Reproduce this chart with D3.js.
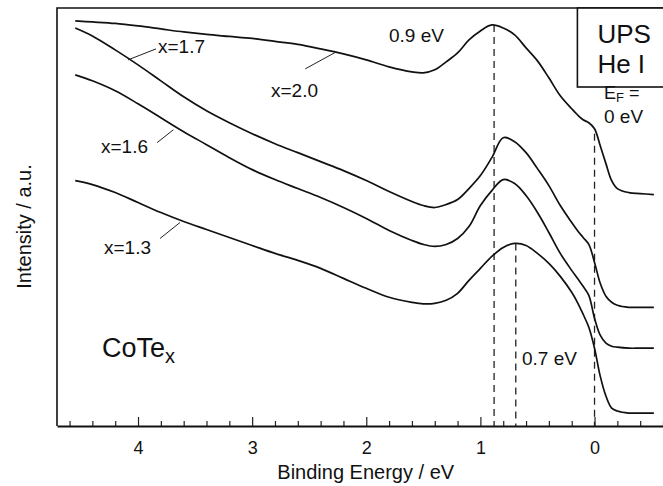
<!DOCTYPE html>
<html>
<head>
<meta charset="utf-8">
<script src="https://cdn.jsdelivr.net/npm/d3@7"></script>
<style>
    body { margin: 0; background: #fff; }
    #upsChart { width: 663px; height: 486px; }
    text { font-family: "Liberation Sans", Arial, Helvetica, sans-serif; fill: #111; }
</style>
</head>
<body>
<div id="upsChart"></div>
<script>
// binding energy grid (eV), shared by all spectra
const energies = [4.55, 4.4, 4.2, 4.0, 3.8, 3.6, 3.4, 3.2, 3.0, 2.8, 2.6, 2.4, 2.2, 2.0, 1.8, 1.6, 1.5, 1.4, 1.3, 1.2,
    1.1, 1.0, 0.9, 0.8, 0.7, 0.6, 0.5, 0.4, 0.3, 0.2, 0.15, 0.1, 0.05, 0.0, -0.05, -0.1, -0.15, -0.2, -0.3, -0.4, -0.52];

// intensities (a.u., curves offset vertically)
const intensityX20 = [406, 405, 403.5, 401, 398, 395, 392.5, 390.5, 388.5, 385.5, 382.5, 378, 373, 367, 360, 355, 354, 357, 365, 374,
    387, 396, 402, 399, 392, 379, 366, 349, 331, 318, 312, 307, 304, 298, 281, 263, 246, 238, 234, 233, 232];
const intensityX17 = [399, 391, 377, 362, 346, 330, 316, 304, 293, 283, 274, 265, 256, 246, 235, 225, 221, 219, 222, 227,
    238, 251, 269, 289, 285, 274, 258, 241, 221, 204, 196, 189, 182, 164, 143, 130, 124, 121, 119, 119, 119];
const intensityX16 = [352, 346, 336, 323, 309, 295, 282, 269, 257, 247, 238, 229, 219, 208, 196, 186, 182, 180, 182, 188,
    200, 221, 236, 247, 243, 231, 214, 194, 173, 156, 148, 140, 131, 108, 91, 83, 80, 79, 78, 78, 78];
const intensityX13 = [246, 242, 234, 224, 214, 205, 197, 189, 181, 173, 166, 158, 148, 138, 129, 124, 122.5, 123, 126, 133,
    146, 158, 170, 179, 183, 181, 173, 163, 150, 134, 124, 112, 99, 78, 50, 30, 18, 15, 13, 13, 13];

const seriesNames = ["x=2.0", "x=1.7", "x=1.6", "x=1.3"];

// tick labels on the energy axis
const majorTicks = [4, 3, 2, 1, 0];

// dashed markers: energy (eV) and intensity where the dash starts
const markerEnergies = [0.88, 0.69, 0.0];
const markerTops = [402, 183, 293];

function drawUpsChart() {
    const W = 663, H = 486;
    const margin = { top: 8, right: 0, bottom: 60, left: 57 };

    const svg = d3.select("#upsChart")
        .append("svg")
        .attr("width", W)
        .attr("height", H);

    // scales (energy axis runs high -> low)
    const x = d3.scaleLinear()
        .domain([4.71, -0.6])
        .range([margin.left, W]);
    const y = d3.scaleLinear()
        .domain([0, 419])
        .range([H - margin.bottom, margin.top]);

    const spectra = [intensityX20, intensityX17, intensityX16, intensityX13].map((vals, i) => ({
        name: seriesNames[i],
        points: energies.map((e, j) => ({ e: e, v: vals[j] }))
    }));

    // dashed lines
    markerEnergies.forEach((e, i) => {
        svg.append("line")
            .attr("x1", x(e))
            .attr("x2", x(e))
            .attr("y1", y(markerTops[i]))
            .attr("y2", y(0))
            .attr("stroke", "#222")
            .attr("stroke-width", 1.3)
            .attr("stroke-dasharray", "7,5");
    });

    const line = d3.line()
        .x(d => x(d.e))
        .y(d => y(d.v))
        .curve(d3.curveCatmullRom.alpha(0.5));

    svg.selectAll(".spectrum")
        .data(spectra)
        .enter().append("path")
        .attr("class", "spectrum")
        .attr("fill", "none")
        .attr("stroke", "#111")
        .attr("stroke-width", 1.7)
        .attr("d", d => line(d.points));

    // minor ticks every 0.2 eV
    const minorTicks = d3.range(4.6, -0.61, -0.2).map(v => +v.toFixed(1)).filter(v => !majorTicks.includes(v));
    svg.append("g")
        .attr("transform", `translate(0,${y(0)})`)
        .call(d3.axisBottom(x).tickValues(minorTicks).tickSizeInner(-5).tickSizeOuter(0).tickFormat(""))
        .call(g => g.select(".domain").remove())
        .call(g => g.selectAll("line").attr("stroke", "#222").attr("stroke-width", 1.2));

    // major ticks and labels
    const xAxis = svg.append("g")
        .attr("transform", `translate(0,${y(0)})`)
        .call(d3.axisBottom(x).tickValues(majorTicks).tickSizeInner(-9).tickSizeOuter(0).tickPadding(15).tickFormat(d3.format("d")));
    xAxis.select(".domain").attr("stroke", "#111").attr("stroke-width", 2);
    xAxis.selectAll("line").attr("stroke", "#222").attr("stroke-width", 1.2);
    xAxis.selectAll("text")
        .style("font-size", "18px")
        .style("font-family", "'Liberation Sans', Arial, sans-serif")
        .attr("fill", "#111");

    // frame: left + top
    svg.append("path")
        .attr("d", `M${x.range()[0]},${y(0)}V${y(419)}H${W}`)
        .attr("fill", "none")
        .attr("stroke", "#111")
        .attr("stroke-width", 1.6);

    // UPS He I box
    const boxX = x(0.15);
    svg.append("rect")
        .attr("x", boxX)
        .attr("y", y(419))
        .attr("width", W - boxX + 5)
        .attr("height", 79)
        .attr("fill", "#fff")
        .attr("stroke", "#111")
        .attr("stroke-width", 1.6);
    svg.append("text").attr("x", boxX + 20).attr("y", 43).style("font-size", "26px").text("UPS");
    svg.append("text").attr("x", boxX + 20).attr("y", 73).style("font-size", "26px").text("He I");

    // axis titles
    svg.append("text")
        .attr("x", x(2.005))
        .attr("y", 479)
        .style("text-anchor", "middle")
        .style("font-size", "20px")
        .text("Binding Energy / eV");

    svg.append("text")
        .attr("transform", `translate(31,${y(200)}) rotate(-90)`)
        .style("text-anchor", "middle")
        .style("font-size", "20px")
        .text("Intensity / a.u.");

    // series labels with leader lines
    const labels = [
        { text: "x=2.0", tx: 271, ty: 97, from: [2.535, 358], to: [2.263, 375] },
        { text: "x=1.7", tx: 158, ty: 53, from: [3.842, 378], to: [4.088, 367] },
        { text: "x=1.6", tx: 101, ty: 153, from: [3.833, 284], to: [3.69, 297] },
        { text: "x=1.3", tx: 104, ty: 254, from: [3.807, 188], to: [3.632, 204] }
    ];
    labels.forEach(l => {
        svg.append("line")
            .attr("x1", x(l.from[0])).attr("y1", y(l.from[1]))
            .attr("x2", x(l.to[0])).attr("y2", y(l.to[1]))
            .attr("stroke", "#222")
            .attr("stroke-width", 1);
        svg.append("text")
            .attr("x", l.tx)
            .attr("y", l.ty)
            .style("font-size", "19px")
            .text(l.text);
    });

    // peak annotations
    svg.append("text").attr("x", 389).attr("y", 42).style("font-size", "19px").text("0.9 eV");
    svg.append("text").attr("x", 522).attr("y", 365).style("font-size", "19px").text("0.7 eV");

    // fermi level label
    const ef = svg.append("text").attr("x", 604).attr("y", 99).style("font-size", "18px");
    ef.append("tspan").text("E");
    ef.append("tspan").attr("dy", 3).style("font-size", "13px").text("F");
    ef.append("tspan").attr("dy", -3).text(" =");
    svg.append("text").attr("x", 604).attr("y", 123).style("font-size", "19px").text("0 eV");

    // sample label
    const co = svg.append("text").attr("x", 102).attr("y", 357).style("font-size", "27px");
    co.append("tspan").text("CoTe");
    co.append("tspan").attr("dy", 6).style("font-size", "20px").text("x");
}

drawUpsChart();
</script>
</body>
</html>
